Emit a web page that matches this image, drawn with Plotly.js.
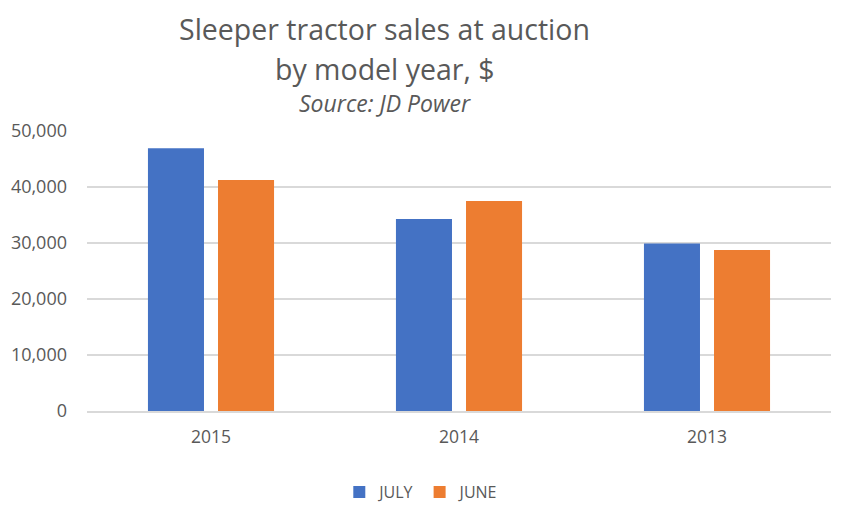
<!DOCTYPE html>
<html>
<head>
<meta charset="utf-8">
<script src="https://cdn.plot.ly/plotly-3.0.1.min.js"></script>
<style>body{margin:0;background:#fff}</style>
</head>
<body>
<div id="chart" style="width:855px;height:523px"></div>
<script>
var years = ['2015', '2014', '2013'];
var july = [46900, 34300, 29900];
var june = [41250, 37500, 28750];

var trace1 = {
  x: years,
  y: july,
  name: 'JULY',
  type: 'bar',
  marker: {color: '#4472c4'}
};

var trace2 = {
  x: years,
  y: june,
  name: 'JUNE',
  type: 'bar',
  marker: {color: '#ed7d31'}
};

var font = '"Open Sans", "DejaVu Sans", sans-serif';

var layout = {
  width: 855,
  height: 523,
  barmode: 'group',
  bargap: 0.435,
  bargroupgap: 0.2,
  margin: {l: 87, r: 24, t: 131, b: 112},
  paper_bgcolor: '#fff',
  plot_bgcolor: '#fff',
  font: {family: font, color: '#595959', size: 16},
  showlegend: true,
  legend: {
    orientation: 'h',
    x: 0.45, xanchor: 'center',
    y: -0.29, yanchor: 'middle',
    font: {size: 16, color: '#595959'},
    itemwidth: 30
  },
  xaxis: {
    type: 'category',
    showgrid: false,
    showline: true,
    linecolor: '#d9d9d9',
    linewidth: 1.5,
    ticks: '',
    ticklabelstandoff: 9,
    tickfont: {size: 17.5, color: '#595959'}
  },
  yaxis: {
    range: [0, 50000],
    dtick: 10000,
    tickformat: ',d',
    gridcolor: '#d9d9d9',
    gridwidth: 1.5,
    zeroline: false,
    showline: false,
    ticks: '',
    ticklabelstandoff: 19,
    tickfont: {size: 18, color: '#595959'}
  },
  annotations: [
    {text: 'Sleeper tractor sales at auction', xref: 'paper', yref: 'paper',
     x: 0.4, y: 1.0, yshift: 123, showarrow: false,
     font: {size: 28.5, color: '#595959', family: font}},
    {text: 'by model year, $', xref: 'paper', yref: 'paper',
     x: 0.4, y: 1.0, yshift: 83, showarrow: false,
     font: {size: 28.5, color: '#595959', family: font}},
    {text: '<i>Source: JD Power</i>', xref: 'paper', yref: 'paper',
     x: 0.4, y: 1.0, yshift: 46, showarrow: false,
     font: {size: 23, color: '#595959', family: font}}
  ]
};

Plotly.newPlot('chart', [trace1, trace2], layout, {displayModeBar: false, showLink: false});
</script>
</body>
</html>
